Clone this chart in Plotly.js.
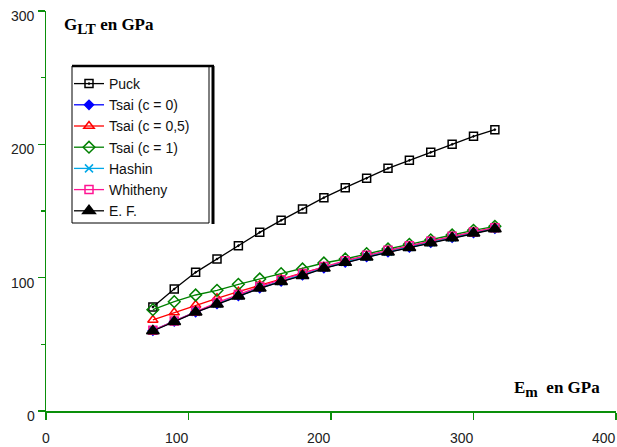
<!DOCTYPE html>
<html>
<head>
<meta charset="utf-8">
<script src="https://cdn.plot.ly/plotly-3.0.1.min.js"></script>
<style>html,body{margin:0;padding:0;background:#fff;}#chart{width:617px;height:447px;}</style>
</head>
<body>
<div id="chart"></div>
<script>
// ---- data ----
const Em = [75, 90, 105, 120, 135, 150, 165, 180, 195, 210, 225, 240, 255, 270, 285, 300, 315];
const puck      = [78, 91.5, 104, 114, 124, 134, 143, 151.5, 160, 167.5, 174.5, 182, 188, 194, 200, 206, 211];
const tsaiC0    = [60.3, 67.2, 74.2, 80.3, 86.3, 92.2, 97.3, 101.9, 107.2, 111.5, 115.5, 119.2, 122.7, 126.2, 130, 133.5, 136.8];
const tsaiC05   = [68.3, 73.8, 79.5, 84.5, 89.5, 94.5, 99, 103.5, 108, 112, 116, 120, 123.5, 127, 130.5, 134, 137.5];
const tsaiC1    = [76, 82, 87, 90.5, 95, 99, 103, 106.5, 111, 114, 118, 121.5, 125, 128.3, 132, 135.5, 138.5];
const hashin    = [60.4, 67.3, 74.3, 80.5, 86.5, 92.4, 97.5, 102.2, 107.5, 111.8, 115.8, 119.5, 123, 126.5, 130.2, 133.7, 137];
const whitheny  = [60.5, 67.5, 74.8, 81.3, 87.3, 93.3, 98.5, 103.2, 108.4, 112.7, 116.8, 120.6, 124, 127.4, 131, 134.3, 137.5];
const ef        = [60, 67, 74, 80, 86, 92, 97, 101.5, 107, 111.3, 115.3, 119, 122.5, 126, 129.8, 133.3, 136.5];

const seriesNames = ['Puck', 'Tsai (c = 0)', 'Tsai (c = 0,5)', 'Tsai (c = 1)', 'Hashin', 'Whitheny', 'E. F.'];
const xTickVals = [0, 100, 200, 300, 400];
const xTickText = ['0', '100', '200', '300', '400'];
const yTickVals = [0, 100, 200, 300];
const yTickText = ['0', '100', '200', '300'];
const yTitle = '<b>G<sub><span style="font-size:15px">LT</span></sub> en GPa</b>';
const xTitle = '<b>E<sub><span style="font-size:15px">m</span></sub>  en GPa</b>';

// ---- styling ----
const GREEN = '#0a8f0a';
const styles = [
  {color: '#000000', symbol: 'square-open-dot', size: 8},
  {color: '#0000ff', symbol: 'diamond', size: 7},
  {color: '#ff0000', symbol: 'triangle-up-open', size: 9},
  {color: '#008000', symbol: 'diamond-open', size: 9},
  {color: '#00a8e8', symbol: 'x-thin-open', size: 8},
  {color: '#ff1493', symbol: 'square-open', size: 8},
  {color: '#000000', symbol: 'triangle-up', size: 11}
];
const ys = [puck, tsaiC0, tsaiC05, tsaiC1, hashin, whitheny, ef];

const traces = ys.map((y, i) => ({
  type: 'scatter', mode: 'lines+markers', name: seriesNames[i],
  x: Em, y: y,
  line: {color: styles[i].color, width: 1.3},
  marker: {color: styles[i].color, symbol: styles[i].symbol, size: styles[i].size,
           line: {color: styles[i].color, width: 1.5}}
}));

const annotations = [];
xTickVals.forEach((v, i) => {
  annotations.push({x: v, xref: 'x', y: 0, yref: 'paper', text: xTickText[i], showarrow: false,
    xanchor: v === 0 ? 'center' : 'right', yanchor: 'middle', yshift: -27, xshift: v === 0 ? 0 : 2,
    font: {family: 'Liberation Sans, Arial, sans-serif', size: 14, color: '#222'}});
});
yTickVals.forEach((v, i) => {
  annotations.push({x: 0, xref: 'x', y: v, yref: 'y', text: yTickText[i], showarrow: false,
    xanchor: 'right', yanchor: 'middle', xshift: -9, yshift: -5,
    font: {family: 'Liberation Sans, Arial, sans-serif', size: 14, color: '#222'}});
});
annotations.push({x: 0.028, xref: 'paper', y: 0.9625, yref: 'paper', text: yTitle, showarrow: false,
  xanchor: 'left', yanchor: 'middle', font: {family: 'Liberation Serif, Times New Roman, serif', size: 17, color: '#000'}});
annotations.push({x: 0.8175, xref: 'paper', y: 0.055, yref: 'paper', text: xTitle, showarrow: false,
  xanchor: 'left', yanchor: 'middle', font: {family: 'Liberation Serif, Times New Roman, serif', size: 17, color: '#000'}});

// legend frame (with the offset shadow line)
const lx0 = (72 - 46) / 570, lx1 = (209 - 46) / 570, ly0 = (411 - 223) / 400, ly1 = (411 - 66) / 400;
const shapes = [
  {type: 'rect', xref: 'paper', yref: 'paper', x0: lx0, x1: lx1, y0: ly0, y1: ly1, line: {color: '#000', width: 1}},
  {type: 'line', xref: 'paper', yref: 'paper', x0: lx0, x1: (214 - 46) / 570, y0: ly1, y1: ly1, line: {color: '#000', width: 2.5}},
  {type: 'line', xref: 'paper', yref: 'paper', x0: (213 - 46) / 570, x1: (213 - 46) / 570, y0: ly1, y1: (411 - 224) / 400, line: {color: '#000', width: 3}}
];

const layout = {
  width: 617, height: 447,
  margin: {l: 46, r: 1, t: 11, b: 36, pad: 0},
  paper_bgcolor: '#fff', plot_bgcolor: '#fff',
  showlegend: true,
  legend: {x: (69 - 46) / 570, y: (411 - 68) / 400, xanchor: 'left', yanchor: 'top',
           bgcolor: 'rgba(0,0,0,0)', borderwidth: 0,
           font: {family: 'Liberation Sans, Arial, sans-serif', size: 14, color: '#111'}},
  xaxis: {range: [0, 400], autorange: false, tickmode: 'array', tickvals: xTickVals, showticklabels: false,
          ticks: 'outside', ticklen: 7, tickwidth: 1.5, tickcolor: GREEN,
          showline: true, linecolor: GREEN, linewidth: 1.5, showgrid: false, zeroline: false},
  yaxis: {range: [0, 300], autorange: false, tickmode: 'linear', tick0: 0, dtick: 100, showticklabels: false,
          ticks: 'outside', ticklen: 7, tickwidth: 1.5, tickcolor: GREEN,
          minor: {tickmode: 'linear', tick0: 0, dtick: 50, ticks: 'outside', ticklen: 4, tickwidth: 1.5, tickcolor: GREEN, showgrid: false},
          showline: true, linecolor: GREEN, linewidth: 1.5, showgrid: false, zeroline: false},
  annotations: annotations,
  shapes: shapes
};

Plotly.newPlot('chart', traces, layout, {displayModeBar: false, staticPlot: true});
</script>
</body>
</html>
